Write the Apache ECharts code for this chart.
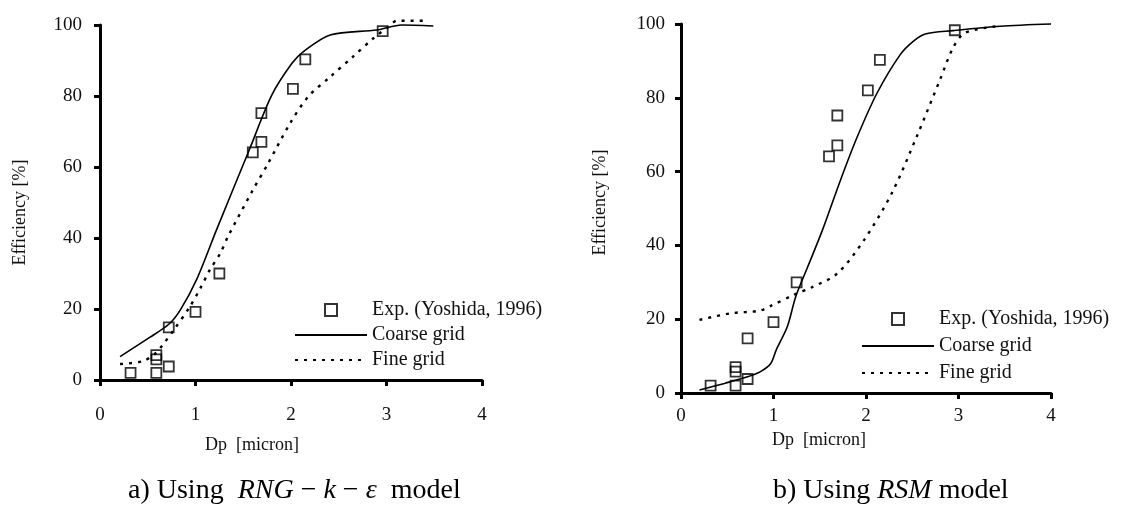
<!DOCTYPE html>
<html>
<head>
<meta charset="utf-8">
<script src="https://cdn.jsdelivr.net/npm/echarts@6/dist/echarts.min.js"></script>
<style>
	html, body { margin: 0; padding: 0; background: #fff; }
	#chart { width: 1124px; height: 516px; }
</style>
</head>
<body>
<div id="chart"></div>
<script>
// 实验数据 (Yoshida, 1996)
var expDp = [0.32, 0.59, 0.59, 0.59, 0.72, 0.72, 1.00, 1.25, 1.60, 1.69, 1.69, 2.02, 2.15, 2.96];
var expEff = [2.0, 7.0, 5.8, 2.0, 3.8, 14.8, 19.2, 30.0, 64.1, 67.1, 75.2, 82.0, 90.3, 98.3];

// a) RNG-k-e
var rngCoarseDp = [0.21, 0.52, 0.72, 0.84, 1.01, 1.22, 1.57, 1.80, 2.01, 2.13, 2.41, 2.90, 3.16, 3.49];
var rngCoarseEff = [6.6, 12.0, 15.7, 19.7, 28.2, 42.3, 65.3, 80.3, 89.2, 92.5, 97.2, 98.6, 100.0, 99.7];
var rngFineDp = [0.21, 0.45, 0.58, 0.66, 0.77, 0.94, 1.05, 1.15, 1.26, 1.34, 1.59, 1.76, 1.99, 2.18, 2.41, 2.65, 2.86, 3.02, 3.11, 3.40];
var rngFineEff = [4.5, 5.3, 7.5, 10.0, 14.0, 20.6, 25.8, 31.0, 35.7, 40.4, 53.0, 61.0, 72.3, 79.8, 85.4, 91.1, 96.2, 99.5, 101.2, 101.2];

// b) RSM
var rsmCoarseDp = [0.20, 0.47, 0.72, 0.86, 0.97, 1.03, 1.15, 1.24, 1.37, 1.53, 1.72, 1.90, 2.12, 2.37, 2.51, 2.64, 2.94, 3.45, 4.00];
var rsmCoarseEff = [0.8, 2.6, 4.4, 5.8, 8.0, 11.7, 18.0, 26.1, 34.2, 44.2, 57.4, 69.1, 81.3, 91.7, 95.3, 97.3, 98.2, 99.4, 100.0];
var rsmFineDp = [0.20, 0.54, 0.85, 0.97, 1.22, 1.41, 1.69, 1.98, 2.28, 2.55, 2.80, 2.94, 3.07, 3.45];
var rsmFineEff = [19.8, 21.6, 22.3, 23.6, 26.6, 28.6, 32.4, 41.5, 54.2, 69.6, 84.9, 93.5, 97.6, 99.5];

var xTicks = [0, 1, 2, 3, 4];
var yTicks = [0, 20, 40, 60, 80, 100];

var expName = 'Exp. (Yoshida, 1996)',
	coarseName = 'Coarse grid',
	fineName = 'Fine grid';

var serif = '"Liberation Serif", "DejaVu Serif", serif';

function pairs(xs, ys) {
	var out = [];
	for (var i = 0; i < xs.length; i++) {
		out.push([xs[i], ys[i]]);
	}
	return out;
}

function xAxisOf(idx, labelMargin, nameGap, namePad) {
	return {
		gridIndex: idx,
		type: 'value',
		min: xTicks[0],
		max: xTicks[xTicks.length - 1],
		interval: 1,
		splitLine: { show: false },
		axisLine: { onZero: false, lineStyle: { color: '#000', width: 3 } },
		axisTick: { length: 6, lineStyle: { color: '#000', width: 3 } },
		axisLabel: { margin: labelMargin, color: '#111', fontFamily: serif, fontSize: 19 },
		name: 'Dp  [micron]',
		nameLocation: 'middle',
		nameGap: nameGap,
		nameTextStyle: { color: '#111', fontFamily: serif, fontSize: 18, padding: namePad }
	};
}

function yAxisOf(idx, labelMargin, nameGap, namePad) {
	return {
		gridIndex: idx,
		type: 'value',
		min: yTicks[0],
		max: yTicks[yTicks.length - 1],
		interval: 20,
		splitLine: { show: false },
		axisLine: { onZero: false, lineStyle: { color: '#000', width: 3 } },
		axisTick: { length: 6, lineStyle: { color: '#000', width: 3 } },
		axisLabel: { margin: labelMargin, color: '#111', fontFamily: serif, fontSize: 19 },
		name: 'Efficiency [%]',
		nameLocation: 'middle',
		nameGap: nameGap,
		nameTextStyle: { color: '#111', fontFamily: serif, fontSize: 18, padding: namePad }
	};
}

function seriesOf(idx, coarse, fine) {
	return [{
		name: expName,
		type: 'scatter',
		xAxisIndex: idx,
		yAxisIndex: idx,
		symbol: 'rect',
		symbolSize: 10,
		itemStyle: { color: 'rgba(0,0,0,0)', borderColor: '#000', borderWidth: 1.8 },
		data: pairs(expDp, expEff),
		z: 5
	}, {
		name: coarseName,
		type: 'line',
		xAxisIndex: idx,
		yAxisIndex: idx,
		symbol: 'none',
		smooth: 0.3,
		clip: false,
		lineStyle: { color: '#000', width: 1.6 },
		// 透明填充, 图例里不显示圆点
		itemStyle: { color: 'rgba(0,0,0,0)' },
		data: coarse
	}, {
		name: fineName,
		type: 'line',
		xAxisIndex: idx,
		yAxisIndex: idx,
		symbol: 'none',
		smooth: 0.3,
		clip: false,
		lineStyle: { color: '#000', width: 2.4, type: [3, 6] },
		itemStyle: { color: 'rgba(0,0,0,0)' },
		data: fine
	}];
}

function legendOf(left, top, gap) {
	return {
		left: left,
		top: top,
		orient: 'vertical',
		itemWidth: 72,
		itemHeight: 12,
		itemGap: gap,
		symbolKeepAspect: true,
		selectedMode: false,
		textStyle: { color: '#111', fontFamily: serif, fontSize: 20 },
		data: [
			{ name: expName, icon: 'path://M0,0L10,0L10,10L0,10Z' },
			{ name: coarseName, icon: 'inherit' },
			{ name: fineName, icon: 'inherit' }
		]
	};
}

var captionRich = {
	n: { fontFamily: serif, fontSize: 28, color: '#111' },
	i: { fontFamily: serif, fontSize: 28, fontStyle: 'italic', color: '#111' }
};

var option = {
	backgroundColor: '#fff',
	animation: false,
	grid: [
		{ left: 100, top: 25, width: 382, height: 355 },
		{ left: 681, top: 24, width: 370, height: 369 }
	],
	xAxis: [xAxisOf(0, 26, 56, [0, 78, 0, 0]), xAxisOf(1, 14, 35, [0, 94, 0, 0])],
	yAxis: [yAxisOf(0, 18, 71, [0, 20, 0, 0]), yAxisOf(1, 16, 72, [0, 0, 0, 12])],
	legend: [legendOf(289, 295, 5), legendOf(856, 304, 7)],
	series: seriesOf(0, pairs(rngCoarseDp, rngCoarseEff), pairs(rngFineDp, rngFineEff))
		.concat(seriesOf(1, pairs(rsmCoarseDp, rsmCoarseEff), pairs(rsmFineDp, rsmFineEff))),
	graphic: [{
		type: 'text',
		left: 128,
		top: 477,
		style: {
			text: '{n|a) Using  }{i|RNG}{n| − }{i|k}{n| − }{i|ε}{n|  model}',
			rich: captionRich
		}
	}, {
		type: 'text',
		left: 773,
		top: 477,
		style: {
			text: '{n|b) Using }{i|RSM}{n| model}',
			rich: captionRich
		}
	}]
};

var myChart = echarts.init(document.getElementById('chart'));
myChart.setOption(option);
</script>
</body>
</html>
